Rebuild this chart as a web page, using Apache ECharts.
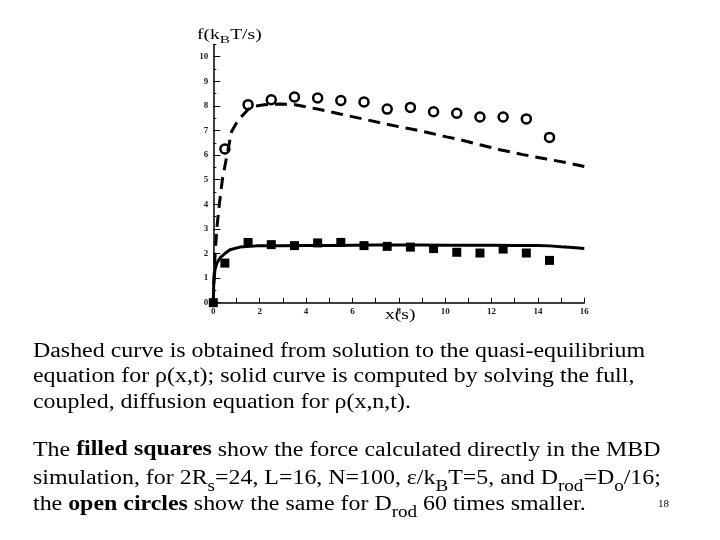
<!DOCTYPE html>
<html><head><meta charset="utf-8">
<script src="https://cdn.jsdelivr.net/npm/echarts@6/dist/echarts.min.js"></script>
<style>html,body{margin:0;padding:0;background:#fff}#c{width:720px;height:540px}</style>
</head><body><div id="c"></div>
<script>
// ---- data ----
const squaresX = [0, 0.5, 1.5, 2.5, 3.5, 4.5, 5.5, 6.5, 7.5, 8.5, 9.5, 10.5, 11.5, 12.5, 13.5, 14.5];
const squaresY = [0, 1.61, 2.45, 2.36, 2.32, 2.43, 2.45, 2.32, 2.29, 2.26, 2.2, 2.05, 2.02, 2.18, 2.02, 1.72];
const circlesX = [0.5, 1.5, 2.5, 3.5, 4.5, 5.5, 6.5, 7.5, 8.5, 9.5, 10.5, 11.5, 12.5, 13.5, 14.5];
const circlesY = [6.25, 8.05, 8.25, 8.36, 8.32, 8.22, 8.16, 7.87, 7.94, 7.76, 7.7, 7.55, 7.55, 7.47, 6.72];
const dashedX = [0, 0.03, 0.08, 0.15, 0.26, 0.39, 0.58, 0.79, 1.0, 1.22, 1.5, 1.72, 2.2, 2.87, 3.52, 4.6, 5.47, 6.6, 7.54, 8.48, 9.34, 10.06, 10.63, 11.5, 12.36, 13.36, 14.37, 15.2, 16];
const dashedY = [0, 1.0, 2.0, 3.0, 4.0, 5.0, 5.95, 6.96, 7.3, 7.57, 7.85, 7.98, 8.05, 8.08, 8.05, 7.85, 7.67, 7.44, 7.24, 7.07, 6.9, 6.74, 6.63, 6.42, 6.22, 6.02, 5.84, 5.7, 5.54];
const solidX = [0, 0.02, 0.07, 0.15, 0.29, 0.5, 0.72, 1.15, 1.87, 3, 4, 5, 6, 7, 8, 9, 10, 11, 12, 13, 14, 14.5, 15, 15.5, 16];
const solidY = [0, 0.8, 1.34, 1.6, 1.82, 2.0, 2.15, 2.26, 2.31, 2.32, 2.33, 2.33, 2.34, 2.35, 2.35, 2.35, 2.34, 2.34, 2.34, 2.33, 2.33, 2.31, 2.27, 2.24, 2.2];
const yTickValues = [0, 1, 2, 3, 4, 5, 6, 7, 8, 9, 10];
const xLabelValues = [0, 2, 4, 6, 8, 10, 12, 14, 16];

const yTitle = 'f(k{s|B}T/s)';
const xTitle = 'x(s)';
const para1 = [
  'Dashed curve is obtained from solution to the quasi-equilibrium',
  'equation for ρ(x,t); solid curve is computed by solving the full,',
  'coupled, diffusion equation for ρ(x,n,t).'
];
const para2 = [
  'The {b|filled squares} show the force calculated directly in the MBD',
  'simulation, for 2R{s|s}=24, L=16, N=100, ε/k{s|B}T=5, and D{s|rod}=D{s|o}/16;',
  'the {b|open circles} show the same for D{s|rod} 60 times smaller.'
];
const pageNo = '18';

const zip = (a, b) => a.map((v, i) => [v, b[i]]);
const SERIF = 'Liberation Serif';

function textLine(txt, x, baseline, size, lh, subSize, subPad) {
  return {
    type: 'text', left: x, top: baseline - lh / 2 - size * 0.3375,
    style: {
      text: txt, fontFamily: SERIF, fontSize: size, lineHeight: lh, fill: '#000',
      rich: {
        b: { fontFamily: SERIF, fontSize: size, fontWeight: 'bold', lineHeight: lh, color: '#000' },
        s: { fontFamily: SERIF, fontSize: subSize, lineHeight: lh - subPad, padding: [subPad, 0, 0, 0], color: '#000' }
      }
    }
  };
}

const graphics = [];
const b1 = [358, 383.5, 409];
para1.forEach((t, i) => { const g = textLine(t, 33, b1[i], 20, 26, 16, 16); g.scaleX = 1.195; graphics.push(g); });
const b2 = [457, 482.7, 508.3];
para2.forEach((t, i) => { const g = textLine(t, 33, b2[i], 20, 26, 16, 16); g.scaleX = 1.195; graphics.push(g); });
graphics.push({ type: 'text', left: 658, top: 499, style: { text: pageNo, fontFamily: SERIF, fontSize: 11, fill: '#000' } });
const yt = textLine(yTitle, 197, 39.5, 14, 18, 11, 9);
yt.scaleX = 1.4; graphics.push(yt);
const xt = textLine(xTitle, 385, 320, 14, 18, 11, 9);
xt.scaleX = 1.4; graphics.push(xt);

const tickLabel = { fontFamily: SERIF, fontSize: 9, fontWeight: 'bold', color: '#222' };
const chart = echarts.init(document.getElementById('c'));
chart.setOption({
  animation: false,
  backgroundColor: '#fff',
  grid: { left: 213.3, right: 135.7, top: 44.4, bottom: 237.3 },
  xAxis: {
    type: 'value', min: 0, max: 16, interval: 1,
    axisLine: { lineStyle: { color: '#000', width: 1.5 } },
    axisTick: { inside: true, length: 5, lineStyle: { color: '#000', width: 1 } },
    axisLabel: Object.assign({ margin: 4, customValues: xLabelValues }, tickLabel),
    splitLine: { show: false }
  },
  yAxis: [{
    type: 'value', min: 0, max: 10.5, interval: 0.5,
    axisLine: { show: true, lineStyle: { color: '#000', width: 1.5 } },
    axisTick: { show: true, inside: true, length: 3, lineStyle: { color: '#000', width: 1 } },
    axisLabel: Object.assign({ margin: 5, customValues: yTickValues }, tickLabel),
    splitLine: { show: false }
  }, {
    type: 'value', min: 0, max: 10.5, interval: 0.5, position: 'left',
    axisLine: { show: false },
    axisTick: { show: true, inside: true, length: 7, customValues: yTickValues, lineStyle: { color: '#000', width: 1 } },
    axisLabel: { show: false },
    splitLine: { show: false }
  }],
  series: [
    { type: 'line', data: zip(dashedX, dashedY), showSymbol: false, symbol: 'none', clip: false,
      lineStyle: { color: '#000', width: 3, type: [12, 7] } },
    { type: 'line', data: zip(solidX, solidY), showSymbol: false, symbol: 'none', clip: false,
      lineStyle: { color: '#000', width: 3 } },
    { type: 'scatter', data: zip(circlesX, circlesY), symbol: 'circle', symbolSize: 9, clip: false,
      itemStyle: { color: '#fff', borderColor: '#000', borderWidth: 2.5, opacity: 1 } },
    { type: 'scatter', data: zip(squaresX, squaresY), symbol: 'rect', symbolSize: 9, clip: false,
      itemStyle: { color: '#000', opacity: 1 } }
  ],
  graphic: graphics
});
</script>
</body></html>
